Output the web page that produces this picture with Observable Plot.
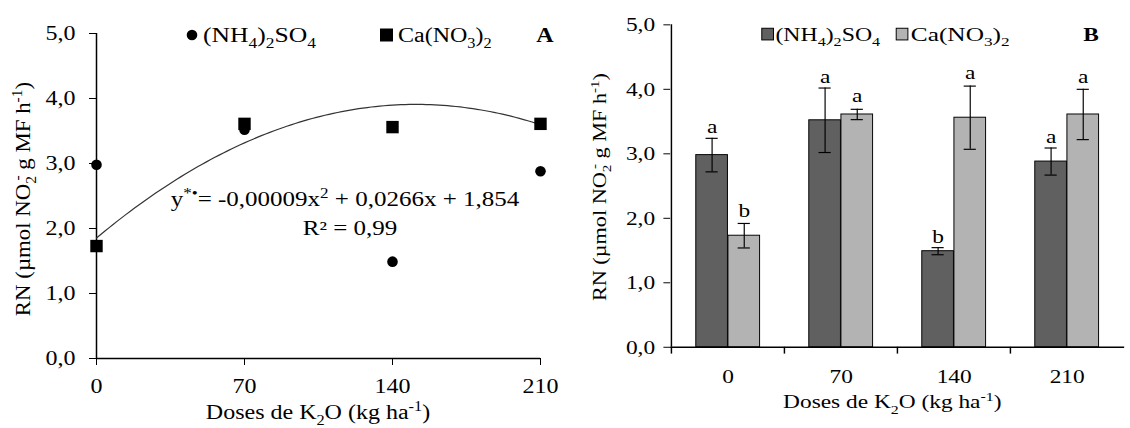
<!DOCTYPE html>
<html><head><meta charset="utf-8">
<script src="https://cdn.jsdelivr.net/npm/d3@7"></script>
<script src="https://cdn.jsdelivr.net/npm/@observablehq/plot@0.6"></script>
<style>
body{margin:0;background:#fff;overflow:hidden}
#wrap{position:relative;width:1130px;height:428px;overflow:hidden;background:#fff}
#a{position:absolute;left:0;top:0}
#b{position:absolute;left:565px;top:0}
</style></head><body><div id="wrap"><div id="a"></div><div id="b"></div></div>
<script>
// ---- data ----
const doses = [0, 70, 140, 210];
const nh4 = [2.98, 3.52, 1.49, 2.88];
const ca = [1.73, 3.61, 3.56, 3.61];
const nh4Err = [0.26, 0.50, 0.055, 0.21];
const caErr = [0.19, 0.08, 0.49, 0.39];
const nh4Letters = ["a", "a", "b", "a"];
const caLetters = ["b", "a", "a", "a"];
const yTicks = [0, 1, 2, 3, 4, 5];
const fitCoef = [-0.00009, 0.0272, 1.854]; // quadratic trend line (a, b, c)
const fitX = d3.range(0, 211, 2);

const FONT = "Liberation Serif, Times New Roman, serif";
const fmt = d => d.toFixed(1).replace(".", ",");
const darkFill = "#606060", lightFill = "#b3b3b3";

function rich(sel, x, y, parts, {size = 20, anchor = "start", rotate = 0, weight = null, stretch = 1.2} = {}) {
  const t = sel.append("text")
    .attr("transform", `translate(${x},${y}) rotate(${rotate})`)
    .attr("text-anchor", anchor).attr("font-size", size)
    .attr("font-family", FONT).attr("fill", "black")
    .attr("data-stretch", stretch);
  if (weight) t.attr("font-weight", weight);
  let shift = 0;
  for (const [s, k, dx] of parts) {
    const target = k === "sub" ? size * 0.28 : k === "sup" ? -size * 0.38 : 0;
    const ts = t.append("tspan").attr("dy", target - shift).attr("font-size", k ? size * 0.68 : size).text(s);
    if (dx) ts.attr("dx", dx);
    shift = target;
  }
  return t;
}
function widen(svg, k) {
  svg.querySelectorAll("text").forEach(t => {
    const f = t.hasAttribute("data-stretch") ? +t.getAttribute("data-stretch") : k;
    const w = t.getComputedTextLength();
    if (w > 0 && f !== 1) { t.setAttribute("textLength", w * f); t.setAttribute("lengthAdjust", "spacingAndGlyphs"); }
  });
}
const nh4Label = [["(NH"], ["4", "sub"], [")"], ["2", "sub"], ["SO"], ["4", "sub"]];
const caLabel = [["Ca(NO"], ["3", "sub"], [")"], ["2", "sub"]];
const yLabel = [["RN (µmol NO"], ["2", "sub"], ["-", "sup", -4], [" g MF h"], ["-1", "sup"], [")"]];
const xLabel = [["Doses de K"], ["2", "sub"], ["O (kg ha"], ["-1", "sup"], [")"]];

// ---- Panel A ----
const plotA = Plot.plot({
  width: 565, height: 428, marginLeft: 96, marginRight: 25, marginTop: 33, marginBottom: 70,
  style: {fontFamily: FONT, fontSize: "20px", color: "black", background: "white", overflow: "visible"},
  x: {domain: [0, 210], ticks: doses, tickSize: 7, tickPadding: 13, label: null, tickFormat: d => String(d)},
  y: {domain: [0, 5], ticks: yTicks, tickSize: 7, tickPadding: 14, label: null, tickFormat: fmt},
  marks: [
    Plot.ruleY([0], {x1: 0, x2: 210, strokeWidth: 1.5}),
    Plot.ruleX([0], {y1: 0, y2: 5, strokeWidth: 1.5}),
    Plot.line(fitX, {x: d => d, y: d => fitCoef[0] * d * d + fitCoef[1] * d + fitCoef[2], stroke: "#333", strokeWidth: 1.2}),
    Plot.dot(ca, {x: (d, i) => doses[i], y: d => d, symbol: "square", r: 7, fill: "black", stroke: null}),
    Plot.dot(nh4, {x: (d, i) => doses[i], y: d => d, r: 5.3, fill: "black", stroke: null})
  ]
});
document.getElementById("a").append(plotA);
{
  const s = d3.select(plotA);
  s.append("circle").attr("cx", 192).attr("cy", 35).attr("r", 5.3).attr("fill", "black");
  rich(s, 203, 42, nh4Label, {stretch: 1.28});
  s.append("rect").attr("x", 380).attr("y", 28.5).attr("width", 13).attr("height", 13).attr("fill", "black");
  rich(s, 398, 42, caLabel);
  rich(s, 545, 42, [["A"]], {anchor: "middle", weight: "bold"});
  rich(s, 345, 206, [["y"], ["*•", "sup"], ["= -0,00009x"], ["2", "sup"], [" + 0,0266x + 1,854"]], {anchor: "middle", stretch: 1.25});
  rich(s, 350, 235, [["R² = 0,99"]], {anchor: "middle", stretch: 1.25});
  rich(s, 30, 199, yLabel, {anchor: "middle", rotate: -90, stretch: 1.12});
  rich(s, 318, 419, xLabel, {anchor: "middle"});
  widen(plotA, 1.2);
}

// ---- Panel B ----
const bw = 466 / 4, half = bw / 2, barW = 33, capW = 13;
const outer = half - barW;
const plotB = Plot.plot({
  width: 580, height: 428, marginLeft: 108, marginRight: 6, marginTop: 25, marginBottom: 72,
  style: {fontFamily: FONT, fontSize: "20px", color: "black", background: "white", overflow: "visible"},
  x: {type: "band", domain: doses, paddingInner: 0, paddingOuter: 0, tickSize: 0, tickPadding: 22, label: null},
  y: {domain: [0, 5], ticks: yTicks, tickSize: 7, tickPadding: 9, label: null, tickFormat: fmt},
  marks: [
    Plot.barY(doses, {x: d => d, y: (d, i) => nh4[i], fill: darkFill, stroke: "black", strokeWidth: 1, insetLeft: outer, insetRight: half}),
    Plot.barY(doses, {x: d => d, y: (d, i) => ca[i], fill: lightFill, stroke: "black", strokeWidth: 1, insetLeft: half, insetRight: outer}),
    Plot.ruleX(doses, {x: d => d, y1: (d, i) => nh4[i] - nh4Err[i], y2: (d, i) => nh4[i] + nh4Err[i], dx: -barW / 2, strokeWidth: 1.2}),
    Plot.ruleX(doses, {x: d => d, y1: (d, i) => ca[i] - caErr[i], y2: (d, i) => ca[i] + caErr[i], dx: barW / 2, strokeWidth: 1.2}),
    Plot.tickY(doses, {x: d => d, y: (d, i) => nh4[i] + nh4Err[i], insetLeft: half - barW / 2 - capW / 2, insetRight: half + barW / 2 - capW / 2, strokeWidth: 1.2}),
    Plot.tickY(doses, {x: d => d, y: (d, i) => nh4[i] - nh4Err[i], insetLeft: half - barW / 2 - capW / 2, insetRight: half + barW / 2 - capW / 2, strokeWidth: 1.2}),
    Plot.tickY(doses, {x: d => d, y: (d, i) => ca[i] + caErr[i], insetLeft: half + barW / 2 - capW / 2, insetRight: half - barW / 2 - capW / 2, strokeWidth: 1.2}),
    Plot.tickY(doses, {x: d => d, y: (d, i) => ca[i] - caErr[i], insetLeft: half + barW / 2 - capW / 2, insetRight: half - barW / 2 - capW / 2, strokeWidth: 1.2}),
    Plot.text(doses, {x: d => d, y: (d, i) => nh4[i] + nh4Err[i], text: (d, i) => nh4Letters[i], dx: -barW / 2, dy: -5, lineAnchor: "bottom", fontSize: 20}),
    Plot.text(doses, {x: d => d, y: (d, i) => ca[i] + caErr[i], text: (d, i) => caLetters[i], dx: barW / 2, dy: -7, lineAnchor: "bottom", fontSize: 20}),
    Plot.ruleY([0], {strokeWidth: 1.5}),
    Plot.tickX([doses[0]], {x: d => d, dx: -half, strokeWidth: 1.5}),
    Plot.tickX(doses, {x: d => d, dx: -half, dy: 7, insetTop: 331 - 7, strokeWidth: 1.5})
  ]
});
document.getElementById("b").append(plotB);
{
  const s = d3.select(plotB);
  s.append("rect").attr("x", 767 - 565).attr("y", 29).attr("width", 12).attr("height", 12).attr("fill", darkFill).attr("stroke", "black");
  rich(s, 781 - 565, 42, nh4Label, {stretch: 1.22});
  s.append("rect").attr("x", 905 - 565).attr("y", 29).attr("width", 12).attr("height", 12).attr("fill", lightFill).attr("stroke", "black");
  rich(s, 920 - 565, 42, caLabel, {stretch: 1.3});
  rich(s, 1105 - 565, 42, [["B"]], {anchor: "middle", weight: "bold"});
  rich(s, 607 - 565, 192, yLabel, {anchor: "middle", rotate: -90, stretch: 1.12});
  rich(s, 901 - 565, 419, xLabel, {anchor: "middle"});
  widen(plotB, 1.2);
}
</script></body></html>
